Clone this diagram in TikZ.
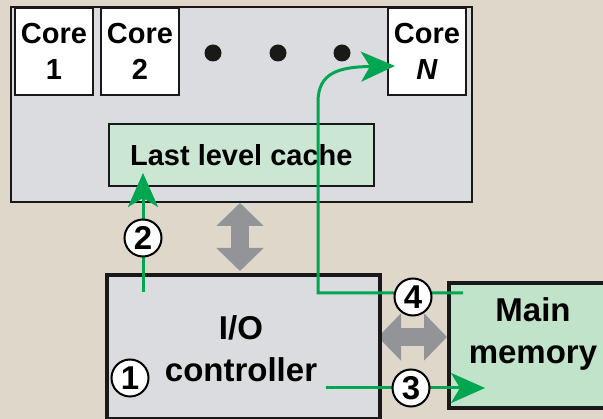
\documentclass[tikz,border=0pt]{standalone}
\usepackage{fontspec}
\setmainfont{Liberation Sans}
\usetikzlibrary{arrows.meta}
\definecolor{bg}{RGB}{222,215,202}
\definecolor{chipgray}{RGB}{219,220,223}
\definecolor{llcgreen}{RGB}{203,230,211}
\definecolor{memgreen}{RGB}{192,227,201}
\definecolor{flow}{RGB}{0,166,81}
\definecolor{bus}{RGB}{146,148,151}
\begin{document}
\begin{tikzpicture}[x=1pt,y=-1pt,
  box/.style={draw=black!90, rectangle, inner sep=0pt, anchor=north west},
  corebox/.style={box, fill=white, line width=2pt, minimum width=78pt, minimum height=87pt,
    align=center, font=\fontsize{29}{36}\selectfont\bfseries},
  dotmark/.style={circle, fill=black!90, inner sep=0pt, minimum size=17pt},
  numcirc/.style={circle, draw=black, fill=white, line width=2pt, inner sep=0pt,
    minimum size=37pt, font=\fontsize{33}{33}\selectfont\bfseries},
  flowarrow/.style={draw=flow, line width=3pt, -{Stealth[length=34pt 0 0, width=30pt 0 0, inset=9pt 0]}},
  busarrow/.style={draw=bus, line width=18pt,
    {Triangle[length=23pt 0 0,width=46pt 0 0]}-{Triangle[length=23pt 0 0,width=46pt 0 0]}},
  bigtext/.style={align=center, font=\fontsize{33}{42}\selectfont\bfseries}
]
\fill[bg] (0,0) rectangle (603,419);
\useasboundingbox (0,0) rectangle (603,419);

% chip
\node[box, fill=chipgray, line width=2.3pt, minimum width=461pt, minimum height=195pt] (chip) at (10,6) {};
\node[corebox] (c1) at (14,7) {Core\\1};
\node[corebox] (c2) at (100,7) {Core\\2};
\node[corebox] (cn) at (387,7) {Core\\\textit{N}};
\node[dotmark] (d1) at (213,53) {};
\node[dotmark] (d2) at (278,53) {};
\node[dotmark] (d3) at (342,53) {};
\node[box, fill=llcgreen, line width=1.7pt, minimum width=265pt, minimum height=62pt,
  font=\fontsize{29}{36}\selectfont\bfseries] (llc) at (108,123) {Last level cache};

% gray buses
\coordinate (vb1) at (240,203);
\coordinate (vb2) at (240,271);
\coordinate (hb1) at (378,337);
\coordinate (hb2) at (447,337);
\draw[busarrow] (vb1) -- (vb2);
\draw[busarrow] (hb1) -- (hb2);

% I/O controller
\node[box, fill=chipgray, line width=4pt, minimum width=273pt, minimum height=144pt] (io) at (105,273) {};
\node[bigtext] (iotext) at (241,349) {I/O\\controller};

% main memory
\node[box, fill=memgreen, line width=4pt, minimum width=175pt, minimum height=125pt] (mem) at (447,281) {};
\node[bigtext] (memtext) at (533,334) {Main\\memory};

% flows
\coordinate (s2) at (143,292);
\coordinate (t2) at (143,173);
\draw[flowarrow] (s2) -- (t2);

\coordinate (s4) at (463,293);
\coordinate (k4a) at (318,293);
\coordinate (k4b) at (318,102);
\coordinate (t4) at (395,66);
\draw[flowarrow] (s4) -- (k4a) -- (k4b) .. controls (318,72) and (340,67) .. (t4);

\coordinate (s3) at (326,388);
\coordinate (t3) at (485,388);
\draw[flowarrow] (s3) -- (t3);

% step numbers
\node[numcirc] (n1) at (130,378) {1};
\node[numcirc] (n2) at (143,238) {2};
\node[numcirc] (n3) at (411,388) {3};
\node[numcirc] (n4) at (413,297) {4};
\end{tikzpicture}
\end{document}
